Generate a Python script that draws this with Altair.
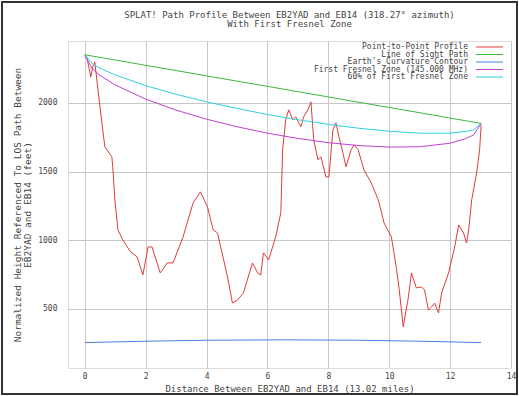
import altair as alt
import pandas as pd

# ---------------- data ----------------
series_names = [
    "Point-to-Point Profile",
    "Line of Sight Path",
    "Earth's Curvature Contour",
    "First Fresnel Zone (145.000 MHz)",
    "60% of First Fresnel Zone",
]
series_colors = ["#e03c3c", "#3cb83c", "#4a7fe0", "#c040d0", "#30d0e0"]

profile_dist = [0.00, 0.07, 0.20, 0.26, 0.33, 0.50, 0.66, 0.89, 0.92, 0.99,
                1.09, 1.25, 1.49, 1.72, 1.91, 2.08, 2.21, 2.48, 2.71, 2.90,
                3.23, 3.56, 3.80, 4.03, 4.22, 4.36, 4.69, 4.85, 5.02, 5.21,
                5.51, 5.68, 5.78, 5.87, 6.04, 6.27, 6.44, 6.50, 6.60, 6.70,
                6.83, 6.93, 7.10, 7.19, 7.33, 7.43, 7.52, 7.66, 7.76, 7.92,
                8.02, 8.15, 8.25, 8.35, 8.48, 8.58, 8.75, 8.84, 8.98, 9.17,
                9.41, 9.64, 9.83, 10.07, 10.23, 10.33, 10.46, 10.63, 10.73, 10.89,
                11.06, 11.16, 11.29, 11.39, 11.49, 11.62, 11.72, 11.95, 12.15, 12.28,
                12.44, 12.54, 12.61, 12.71, 12.87, 12.97, 13.02]
profile_height = [2340, 2328, 2189, 2260, 2298, 1971, 1680, 1607, 1534, 1293,
                  1075, 1002, 920, 878, 747, 951, 951, 762, 835, 835,
                  1024, 1272, 1352, 1243, 1075, 1053, 733, 543, 565, 616,
                  835, 762, 747, 908, 857, 1024, 1199, 1658, 1876, 1949,
                  1876, 1898, 1825, 1898, 1949, 2007, 1730, 1585, 1607, 1461,
                  1461, 1803, 1854, 1752, 1636, 1534, 1658, 1694, 1658, 1512,
                  1417, 1294, 1126, 1024, 806, 638, 369, 587, 762, 653,
                  660, 638, 492, 514, 543, 471, 616, 762, 951, 1111,
                  1053, 980, 1075, 1294, 1490, 1658, 1840]

ref_dist = [0, 0.25, 0.5, 1, 2, 3, 4, 5, 6, 7, 8, 9, 10, 11, 12, 12.5, 12.77, 13.02]
los_height = [2350, 2340, 2331, 2312, 2273, 2235, 2196, 2158, 2120, 2081,
              2043, 2004, 1966, 1928, 1889, 1870, 1860, 1850]
fresnel_height = [2350, 2247, 2200, 2130, 2027, 1947, 1881, 1826, 1779, 1741,
                  1710, 1689, 1678, 1680, 1706, 1739, 1766, 1850]
fresnel60_height = [2350, 2284, 2252, 2203, 2125, 2062, 2007, 1959, 1915, 1877,
                    1843, 1815, 1793, 1779, 1779, 1791, 1803, 1850]

curv_dist = [0, 2, 4, 6.5, 9, 11, 13.02]
curv_height = [255, 265, 272, 275, 272, 265, 255]

x_ticks = [0, 2, 4, 6, 8, 10, 12, 14]
y_ticks = [500, 1000, 1500, 2000]

title_lines = ["SPLAT! Path Profile Between EB2YAD and EB14 (318.27° azimuth)",
               "With First Fresnel Zone"]
x_title = "Distance Between EB2YAD and EB14 (13.02 miles)"
y_title = ["Normalized Height Referenced To LOS Path Between",
           "EB2YAD and EB14 (feet)"]

# ---------------- build long table ----------------
rows = []
def add(name, xs, ys):
    for i, (a, b) in enumerate(zip(xs, ys)):
        rows.append({"series": name, "x": a, "y": b, "i": i})

add(series_names[0], profile_dist, profile_height)
add(series_names[1], ref_dist, los_height)
add(series_names[2], curv_dist, curv_height)
add(series_names[3], ref_dist, fresnel_height)
add(series_names[4], ref_dist, fresnel60_height)
df = pd.DataFrame(rows)
legend_df = pd.DataFrame({"series": series_names})

FONT = "DejaVu Sans Mono"
color_scale = alt.Scale(domain=series_names, range=series_colors)

lines = alt.Chart(df).mark_line(strokeWidth=1, clip=True).encode(
    x=alt.X("x:Q",
            scale=alt.Scale(domain=[-0.55, 14], nice=False, zero=False),
            axis=alt.Axis(values=x_ticks, title=x_title, grid=True, ticks=False,
                          domain=False, labelPadding=4, titlePadding=4,
                          labelFlush=False, labelFont=FONT, labelFontSize=8,
                          titleFont=FONT, titleFontSize=9, titleFontWeight="normal",
                          labelColor="#444", titleColor="#444",
                          gridColor="#c8c8c8")),
    y=alt.Y("y:Q",
            scale=alt.Scale(domain=[70, 2450], nice=False, zero=False),
            axis=alt.Axis(values=y_ticks, format="d", title=y_title, grid=True,
                          ticks=False, domain=False, labelPadding=11, titlePadding=5,
                          labelFont=FONT, labelFontSize=8,
                          titleFont=FONT, titleFontSize=9.5, titleFontWeight="normal",
                          titleLineHeight=10,
                          labelColor="#444", titleColor="#444",
                          gridColor="#c8c8c8")),
    color=alt.Color("series:N", scale=color_scale, legend=None),
    order="i:Q",
)

leg_y = alt.Y("series:N", axis=None,
              scale=alt.Scale(type="point", domain=series_names, range=[6, 36], padding=0))

leg_text = alt.Chart(legend_df).mark_text(
    align="right", baseline="middle", font=FONT, fontSize=8, color="#444"
).encode(y=leg_y, x=alt.value(400), text="series:N")

leg_rule = alt.Chart(legend_df).mark_rule(strokeWidth=1).encode(
    y=leg_y, x=alt.value(408), x2=alt.value(435),
    color=alt.Color("series:N", scale=color_scale, legend=None),
)

frame = alt.Chart(legend_df).mark_rect(
    fill=None, stroke="#333", strokeWidth=1.5, clip=False
).encode(x=alt.value(-66), x2=alt.value(449), y=alt.value(-39), y2=alt.value(353))

chart = alt.layer(lines, leg_text, leg_rule, frame).resolve_scale(
    y="independent"
).properties(
    width=443, height=327,
    title=alt.TitleParams(text=title_lines, anchor="middle", frame="group",
                          font=FONT, fontSize=9, fontWeight="normal", color="#444",
                          offset=0, dy=28, lineHeight=9),
    autosize=alt.AutoSizeParams(type="none"),
    padding={"left": 68, "top": 41, "right": 8, "bottom": 28},
).configure_view(stroke="#555", strokeWidth=1).configure(background="white")

chart.save("out.html", embed_options={"renderer": "svg", "actions": False})
